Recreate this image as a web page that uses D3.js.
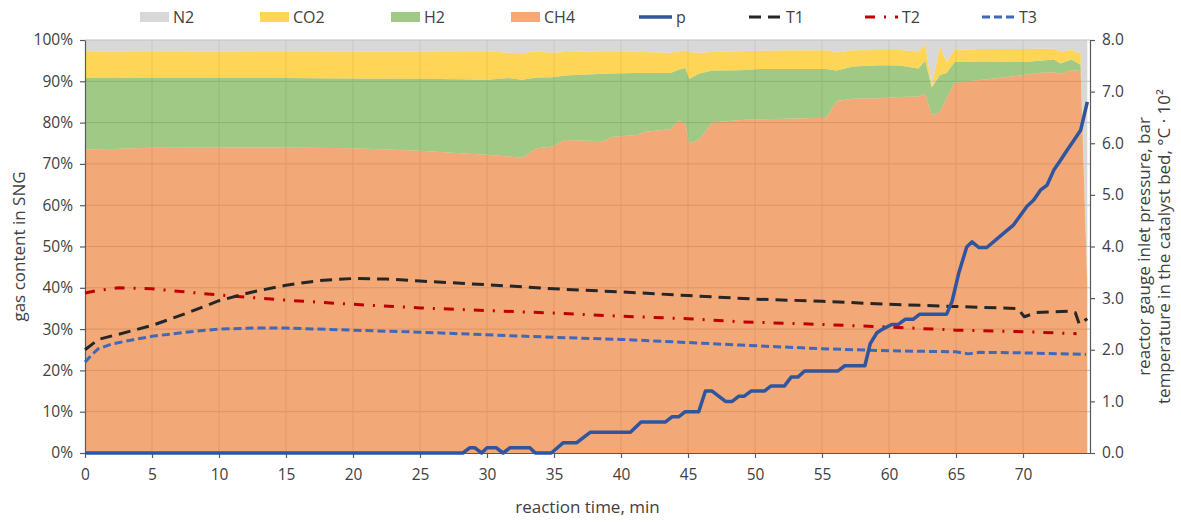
<!DOCTYPE html>
<html>
<head>
<meta charset="utf-8">
<script src="https://cdn.jsdelivr.net/npm/d3@7"></script>
<style>
  body { margin: 0; background: #fff; }
  svg { display: block; font-family: "Open Sans", sans-serif; }
</style>
</head>
<body>
<svg id="chart" width="1181" height="522"></svg>
<script>
// gas composition of the SNG, % (stacked to 100 %)
const gasTime = [0, 2, 5, 10, 15, 20, 25, 28, 30, 31.6, 32.6, 33.7, 34.9, 35.8, 38.7, 39.4, 41.2, 41.8, 43.7, 44.3, 44.8, 45.1, 45.8, 46.8, 48.9, 50.4, 53, 55.3, 56.1, 57.3, 59.3, 60.8, 62.2, 62.7, 63.2, 63.8, 64.3, 64.9, 66.8, 70, 71.3, 72.3, 72.8, 73.6, 74.3, 74.8];
const ch4 = [73.5, 73.6, 73.9, 74.0, 74.0, 73.8, 73.2, 72.6, 72.2, 71.8, 71.5, 73.8, 74.2, 75.8, 75.5, 76.6, 77.0, 77.8, 78.4, 80.5, 79.8, 75.0, 75.8, 80.0, 80.6, 80.8, 81.0, 81.2, 85.2, 85.8, 85.9, 86.2, 86.3, 87.0, 81.8, 82.6, 85.9, 89.7, 90.3, 91.5, 92.1, 92.2, 91.8, 92.7, 92.5, 40.0];
const h2 = [17.3, 17.3, 16.9, 16.8, 16.8, 16.9, 17.4, 17.9, 18.2, 19.0, 18.9, 17.1, 16.8, 15.6, 16.3, 15.3, 15.0, 14.2, 13.6, 12.3, 13.4, 15.6, 16.0, 12.6, 12.1, 12.2, 12.0, 11.8, 7.4, 7.8, 8.0, 7.6, 6.8, 8.0, 6.7, 8.9, 6.1, 5.0, 4.5, 3.2, 2.9, 3.1, 2.5, 2.6, 1.5, 0.6];
const co2 = [6.5, 6.3, 6.5, 6.4, 6.5, 6.5, 6.6, 6.8, 6.9, 6.1, 6.4, 6.3, 5.9, 5.7, 5.5, 5.4, 5.2, 5.1, 4.9, 4.5, 4.3, 6.5, 5.1, 4.5, 4.6, 4.4, 4.5, 4.5, 4.4, 3.9, 3.7, 3.8, 4.1, 4.0, 0.3, 6.9, 2.7, 2.9, 3.0, 3.1, 2.9, 2.6, 2.9, 2.3, 2.8, 0.4];
const n2 = [2.7, 2.8, 2.7, 2.8, 2.7, 2.8, 2.8, 2.7, 2.7, 3.1, 3.2, 2.8, 3.1, 2.9, 2.7, 2.7, 2.8, 2.9, 3.1, 2.7, 2.5, 2.9, 3.1, 2.9, 2.7, 2.6, 2.5, 2.5, 3.0, 2.5, 2.4, 2.4, 2.8, 1.0, 11.2, 1.6, 5.3, 2.4, 2.2, 2.2, 2.1, 2.1, 2.8, 2.4, 3.2, 59.0];

// reactor gauge inlet pressure, bar
const pTime = [0, 28.2, 28.7, 29.1, 29.6, 30.0, 30.7, 31.2, 31.7, 33.2, 33.6, 34.8, 35.7, 36.7, 37.7, 40.7, 41.5, 43.3, 43.8, 44.3, 44.8, 45.8, 46.3, 46.8, 47.8, 48.3, 48.8, 49.2, 49.7, 50.7, 51.2, 52.2, 52.7, 53.2, 53.7, 56.2, 56.7, 58.2, 58.6, 59.1, 59.6, 60.2, 60.7, 61.2, 61.8, 62.3, 64.3, 64.7, 65.2, 65.8, 66.2, 66.7, 67.3, 68.3, 69.3, 70.3, 70.8, 71.3, 71.8, 72.3, 72.8, 73.3, 73.8, 74.3, 74.8];
const pValues = [0, 0, 0.1, 0.1, 0, 0.1, 0.1, 0, 0.1, 0.1, 0, 0, 0.2, 0.2, 0.4, 0.4, 0.6, 0.6, 0.7, 0.7, 0.8, 0.8, 1.2, 1.2, 1.0, 1.0, 1.1, 1.1, 1.2, 1.2, 1.3, 1.3, 1.47, 1.47, 1.59, 1.59, 1.69, 1.69, 2.12, 2.33, 2.41, 2.49, 2.49, 2.59, 2.59, 2.69, 2.69, 2.93, 3.48, 3.99, 4.09, 3.98, 3.98, 4.2, 4.42, 4.78, 4.9, 5.09, 5.19, 5.48, 5.67, 5.87, 6.06, 6.25, 6.8];

// catalyst bed temperatures, °C·10²
const t1Time = [0, 0.5, 1, 2.5, 5, 7.5, 10, 12.5, 15, 17.5, 20, 22.5, 25, 30, 35, 40, 45, 50, 55, 60, 64.8, 69.6, 70.1, 71, 73.5, 73.9, 74.2, 74.8];
const t1Values = [2.0, 2.1, 2.2, 2.3, 2.47, 2.7, 2.95, 3.12, 3.25, 3.34, 3.38, 3.37, 3.33, 3.26, 3.18, 3.12, 3.05, 2.98, 2.94, 2.88, 2.84, 2.8, 2.64, 2.72, 2.75, 2.72, 2.5, 2.6];
const t2Time = [0, 1, 2.5, 5, 7.5, 10, 15, 20, 25, 30, 35, 40, 45, 49, 55, 60, 65, 70, 74];
const t2Values = [3.1, 3.15, 3.2, 3.18, 3.12, 3.06, 2.96, 2.88, 2.81, 2.76, 2.71, 2.65, 2.6, 2.54, 2.49, 2.44, 2.38, 2.35, 2.31];
const t3Time = [0, 0.5, 1, 2, 3.5, 5, 7.5, 10, 12.5, 15, 20, 25, 30, 35, 40, 45, 48.9, 55, 60, 65, 65.9, 66.8, 70, 74.7];
const t3Values = [1.76, 1.9, 2.02, 2.11, 2.19, 2.26, 2.34, 2.4, 2.42, 2.42, 2.38, 2.34, 2.29, 2.24, 2.2, 2.14, 2.09, 2.02, 1.98, 1.96, 1.92, 1.95, 1.94, 1.91];

const gasKeys = ['CH4', 'H2', 'CO2', 'N2'];
const gasColors = { N2: '#c4c4c4', CO2: '#ffc000', H2: '#70ad47', CH4: '#ed7d31' };

const svg = d3.select('#chart');
const plotLeft = 85, plotRight = 1090, plotTop = 40, plotBottom = 453;

const x = d3.scaleLinear().domain([0, 75]).range([plotLeft, plotRight]);
const y = d3.scaleLinear().domain([0, 100]).range([plotBottom, plotTop]);
const y2 = d3.scaleLinear().domain([0, 8]).range([plotBottom, plotTop]);

// gridlines
const grid = svg.append('g');
grid.selectAll('line.h')
  .data(d3.range(10, 101, 10))
  .enter().append('line')
  .attr('class', 'h')
  .attr('x1', plotLeft).attr('x2', plotRight)
  .attr('y1', d => y(d)).attr('y2', d => y(d))
  .attr('stroke', '#bfbfbf').attr('stroke-width', 1);
grid.selectAll('line.v')
  .data(d3.range(5, 71, 5))
  .enter().append('line')
  .attr('class', 'v')
  .attr('x1', d => x(d)).attr('x2', d => x(d))
  .attr('y1', plotTop).attr('y2', plotBottom)
  .attr('stroke', '#d0d0d0').attr('stroke-width', 1);

// stacked areas
const rows = gasTime.map((t, i) => ({ t, CH4: ch4[i], H2: h2[i], CO2: co2[i], N2: n2[i] }));
const stack = d3.stack().keys(gasKeys).offset(d3.stackOffsetExpand);
const layers = stack(rows);

const area = d3.area()
  .x(d => x(d.data.t))
  .y0(d => y(d[0] * 100))
  .y1(d => y(d[1] * 100));

svg.append('g').selectAll('path')
  .data(layers)
  .enter().append('path')
  .attr('d', area)
  .attr('fill', d => gasColors[d.key])
  .attr('fill-opacity', 0.66);

// axes
const axisColor = '#595959';
const textColor = '#404040';

const styleAxis = g => {
  g.select('.domain').attr('stroke', axisColor).attr('stroke-width', 1.2);
  g.selectAll('.tick line').attr('stroke', axisColor).attr('stroke-width', 1.2);
  g.selectAll('.tick text').attr('fill', textColor).attr('font-size', 15.5).attr('font-family', '"Open Sans", sans-serif');
};

svg.append('g')
  .attr('transform', `translate(0,${plotBottom})`)
  .call(d3.axisBottom(x).tickValues(d3.range(0, 71, 5)).tickSize(5).tickSizeOuter(0).tickPadding(11))
  .call(styleAxis);

svg.append('g')
  .attr('transform', `translate(${plotLeft},0)`)
  .call(d3.axisLeft(y).tickValues(d3.range(0, 101, 10)).tickFormat(d => d + '%').tickSize(5).tickSizeOuter(0).tickPadding(7))
  .call(styleAxis);

svg.append('g')
  .attr('transform', `translate(${plotRight},0)`)
  .call(d3.axisRight(y2).tickValues(d3.range(0, 9, 1)).tickFormat(d3.format('.1f')).tickSize(5).tickSizeOuter(0).tickPadding(7))
  .call(styleAxis);

// lines on the right axis
const lineGen = d3.line().x(d => x(d[0])).y(d => y2(d[1]));
const lineSeries = [
  { name: 'T2', time: t2Time, values: t2Values, color: '#c00000', width: 3, dash: '10,9,2,9' },
  { name: 'T3', time: t3Time, values: t3Values, color: '#3f68b8', width: 3, dash: '8,4' },
  { name: 'T1', time: t1Time, values: t1Values, color: '#262626', width: 3, dash: '12,7' },
  { name: 'p', time: pTime, values: pValues, color: '#2f55a0', width: 3.5, dash: null }
];

svg.append('g').selectAll('path')
  .data(lineSeries)
  .enter().append('path')
  .attr('d', s => lineGen(s.time.map((t, i) => [t, s.values[i]])))
  .attr('fill', 'none')
  .attr('stroke', s => s.color)
  .attr('stroke-width', s => s.width)
  .attr('stroke-linejoin', 'round')
  .attr('stroke-dasharray', s => s.dash);

// legend
const legend = svg.append('g').attr('font-size', 16).attr('fill', textColor);
const legendAreas = [
  { key: 'N2', x: 140 }, { key: 'CO2', x: 260 }, { key: 'H2', x: 391 }, { key: 'CH4', x: 511 }
];
legendAreas.forEach(d => {
  legend.append('rect')
    .attr('x', d.x).attr('y', 12).attr('width', 29).attr('height', 10)
    .attr('fill', gasColors[d.key]).attr('fill-opacity', 0.66);
  legend.append('text')
    .attr('x', d.x + 33).attr('y', 17).attr('dy', '0.35em')
    .text(d.key);
});
const legendLines = [
  { name: 'p', x: 639 }, { name: 'T1', x: 749 }, { name: 'T2', x: 865 }, { name: 'T3', x: 982 }
];
legendLines.forEach(d => {
  const s = lineSeries.find(l => l.name === d.name);
  legend.append('line')
    .attr('x1', d.x).attr('x2', d.x + 33).attr('y1', 17).attr('y2', 17)
    .attr('stroke', s.color).attr('stroke-width', s.width)
    .attr('stroke-dasharray', s.dash);
  legend.append('text')
    .attr('x', d.x + 37).attr('y', 17).attr('dy', '0.35em')
    .text(d.name);
});

// axis titles
const titleSize = 17;
svg.append('text')
  .attr('transform', `translate(19,${(plotTop + plotBottom) / 2}) rotate(-90)`)
  .attr('text-anchor', 'middle').attr('dy', '0.35em')
  .attr('font-size', titleSize).attr('fill', textColor)
  .text('gas content in SNG');

svg.append('text')
  .attr('x', (plotLeft + plotRight) / 2).attr('y', 507)
  .attr('text-anchor', 'middle').attr('dy', '0.35em')
  .attr('font-size', titleSize).attr('fill', textColor)
  .text('reaction time, min');

svg.append('text')
  .attr('transform', `translate(1144,${(plotTop + plotBottom) / 2}) rotate(-90)`)
  .attr('text-anchor', 'middle').attr('dy', '0.35em')
  .attr('font-size', titleSize).attr('fill', textColor)
  .text('reactor gauge inlet pressure, bar');

svg.append('text')
  .attr('transform', `translate(1164,${(plotTop + plotBottom) / 2}) rotate(-90)`)
  .attr('text-anchor', 'middle').attr('dy', '0.35em')
  .attr('font-size', titleSize).attr('fill', textColor)
  .text('temperature in the catalyst bed, °C · 10²');
</script>
</body>
</html>
